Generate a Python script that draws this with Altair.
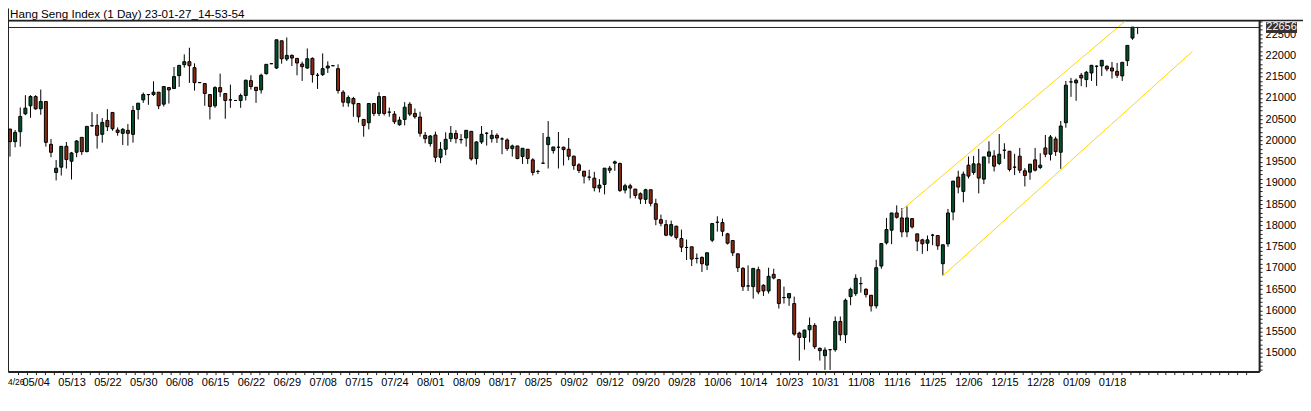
import altair as alt
import pandas as pd

# ---- OHLC values (one entry per daily candle) ----
opens = [20266,19970,20204,20625,20813,21031,20743,20914,19907,19244,
         19369,19860,19509,19720,20071,19735,20344,20352,20141,20469,
         20657,20243,20165,20235,20141,20727,20953,21078,21078,21133,
         20852,21242,21219,21523,21781,21851,21711,21359,21336,21078,
         20813,21242,21102,20953,20938,20938,21055,21406,21250,21188,
         21570,21804,21703,22343,21914,21999,21929,21796,21703,21929,
         21531,21547,21703,21757,21687,21133,20883,20985,20867,20493,
         20415,20867,20633,21031,20664,20618,20368,20493,20850,20634,
         20548,20119,19923,20126,19603,19791,20041,20165,20017,20056,
         20212,19572,19963,20166,20041,20119,20033,20009,19806,19869,
         19619,19791,19541,19268,19463,19900,19760,19838,19838,19791,
         19627,19424,19275,19135,19111,18877,18963,19346,19463,19455,
         18830,18932,18854,18744,18612,18838,18510,18135,18018,17769,
         17979,17691,17480,17495,17222,17246,17066,17651,18073,18065,
         17800,17644,17331,16988,16574,16559,16957,16590,16457,16847,
         16723,16301,16293,16160,15466,15364,15544,15645,15106,14935,
         15075,15075,15739,15427,16324,16395,16629,16496,16356,16106,
         17043,17589,17886,18292,18175,17847,18159,17800,17659,17581,
         17769,17761,17098,17566,18315,19135,18799,19416,19244,19447,
         19088,19627,19635,19455,19768,19744,19369,19627,19284,19252,
         19541,19362,19822,19674,20033,19721,20415,21376,21352,21532,
         21430,21586,21743,21750,21743,21703,21625,21516,21875,22406,
         22656]
highs = [20266,20243,20774,21063,21063,21063,21195,20914,20032,19540,
         19860,19962,19728,20009,20071,20329,20664,20618,20524,20735,
         20657,20305,20290,20383,20813,20875,21125,21078,21391,21133,
         21266,21242,21726,21765,22023,22179,21812,21370,21336,21078,
         21273,21570,21102,21312,20950,21102,21430,21531,21250,21570,
         21789,21815,22366,22343,22421,22023,21929,21851,22163,21953,
         21586,22046,21859,21770,21789,21180,21055,21024,20867,20493,
         20867,20867,21133,21031,20774,20689,20556,20900,20900,20750,
         20673,20197,20126,20205,19963,20189,20337,20244,20150,20236,
         20212,19978,20337,20197,20244,20166,20072,20048,19900,19869,
         19814,19791,19580,19307,20173,20454,19845,20197,19853,20056,
         19642,19463,19275,19307,19260,19088,19346,19400,19525,19478,
         18979,18979,18854,18776,18862,18838,18627,18253,18128,18112,
         17995,17901,17667,17495,17339,17269,17355,18042,18214,18159,
         17823,17644,17331,17019,17058,16988,17027,16613,17004,16980,
         16723,16559,16395,16324,15497,15544,15832,15700,15130,15130,
         15091,15856,15856,16277,16535,16847,16785,16520,16356,17191,
         17573,18175,18292,18471,18409,18448,18159,17800,17683,17761,
         17800,17761,17543,18386,19042,19284,19268,19619,19635,19799,
         19611,19978,19768,20150,19932,19744,19682,19822,19346,19440,
         19822,19697,20127,20127,20088,20455,21399,21469,21454,21586,
         21633,21766,21766,21883,21766,21844,21821,21836,22234,22664,
         22664]
lows = [19618,19837,19853,20594,20532,20719,20602,19853,19603,19056,
        19173,19337,19080,19603,19657,19720,20321,19806,19946,20219,
        20227,20110,19892,19876,19946,20493,20883,20836,21047,20735,
        20797,20867,21211,21258,21711,21351,21172,21350,20813,20493,
        20766,21024,20508,20766,20930,20766,20938,21195,20883,21102,
        21547,21795,21679,21804,21867,21750,21531,21398,21679,21359,
        21211,21515,21586,21745,21102,20789,20789,20555,20422,20087,
        20258,20571,20571,20586,20555,20384,20345,20353,20571,20509,
        20087,19931,19853,19486,19463,19650,19963,19931,19923,19853,
        19525,19432,19916,19877,19947,19939,19674,19752,19619,19557,
        19447,19447,19174,19205,19447,19338,19689,19338,19408,19533,
        19307,19229,18986,19057,18799,18776,18729,19229,19283,18784,
        18752,18635,18635,18502,18502,18448,18003,17979,17745,17730,
        17667,17370,17183,17043,17105,16902,16949,17605,17854,17745,
        17550,17277,16902,16457,16457,16277,16379,16340,16395,16730,
        16043,16160,16106,15403,14818,15075,15247,15091,14818,14599,
        14599,15028,15286,15231,16121,16340,16418,16301,15973,16043,
        16980,17550,17558,18159,17722,17722,17925,17394,17331,17394,
        17534,17425,16824,17496,18120,18753,18542,19104,19190,18753,
        18971,19455,19268,19416,19565,19268,19182,19229,18917,19073,
        19268,19323,19604,19526,19635,19330,20298,21024,20931,21274,
        21251,21399,21282,21516,21625,21454,21469,21399,21750,22367,
        22500]
closes = [19970,20188,20563,20758,21031,20743,20914,19954,19720,19345,
          19860,19548,19704,19985,19735,20329,20344,20118,20422,20321,
          20274,20188,20259,20165,20704,20875,21078,21078,21133,20813,
          21266,21188,21500,21765,21851,21757,21359,21359,21102,20797,
          21242,21141,20938,20953,20938,21055,21414,21266,21172,21531,
          21789,21804,22366,21921,21999,21937,21820,21734,21921,21547,
          21531,21687,21750,21757,21172,20899,21008,20860,20555,20352,
          20867,20633,21031,20633,20664,20439,20478,20780,20618,20556,
          20166,20041,20103,19603,19791,20025,20165,20041,20017,20236,
          19564,19963,20142,20166,20119,20056,20033,19806,19869,19572,
          19814,19572,19244,19268,19463,20072,19845,19838,19783,19627,
          19408,19291,19158,19135,18885,18947,19346,19299,19494,18823,
          18932,18877,18705,18620,18838,18518,18143,18050,17769,18018,
          17714,17488,17480,17206,17222,17097,17355,18042,18073,17862,
          17581,17355,17004,16559,16574,16988,16434,16457,16801,16762,
          16160,16301,16395,15442,15364,15536,15645,15145,15052,15067,
          15075,15739,15427,16238,16496,16754,16629,16371,16106,17004,
          17573,17901,18292,18190,17847,18175,17964,17628,17566,17659,
          17769,17519,17543,18292,19042,18901,19205,19159,19447,19112,
          19611,19729,19393,19674,19768,19315,19369,19299,19174,19440,
          19299,19416,19674,20080,19736,20337,21298,21376,21415,21469,
          21602,21766,21743,21883,21680,21633,21532,21836,22234,22664,
          22656]

# date labels of the time axis (one every 7 bars)
date_labels = ["05/04","05/13","05/22","05/30","06/08","06/15","06/22","06/29",
               "07/08","07/15","07/24","08/01","08/09","08/17","08/25","09/02",
               "09/12","09/20","09/28","10/06","10/14","10/23","10/31","11/08",
               "11/16","11/25","12/06","12/15","12/28","01/09","01/18"]
first_label = "4/26"

# price channel (two trend lines): bar index / price at their ends
chan_name = ["upper", "upper", "lower", "lower"]
chan_bar = [173.9, 218.5, 181.95, 230.7]
chan_price = [18353, 22900, 16808, 22094]

last_price = 22656
title_text = "Hang Seng Index (1 Day) 23-01-27_14-53-54"

GREEN = "#00512B"
RED = "#8A2A10"
GOLD = "#FFD700"
FONT = "Liberation Sans"
AXC = "#222222"

n = len(opens)
df = pd.DataFrame({"i": list(range(n)), "open": opens, "high": highs,
                   "low": lows, "close": closes})
chan_df = pd.DataFrame({"line": chan_name, "i": chan_bar, "p": chan_price})

W, H = 1254, 352
PAD_R = 44
xs = alt.Scale(domain=[-0.39, 243.7], nice=False, zero=False)
ys = alt.Scale(domain=[14559, 22822], nice=False, zero=False)

# x axis ticks: one every 1.75 bars, labels every 7 bars
x_ticks = [5 + 1.75 * j for j in range(-2, 136)]
lab_arr = "[" + ",".join("'%s'" % s for s in date_labels) + "]"
x_label_expr = (
    "((datum.value - 5) %% 7 == 0 && datum.value >= 5 && datum.value <= %d"
    " ? %s[(datum.value - 5) / 7] : '')" % (5 + 7 * (len(date_labels) - 1), lab_arr)
)
x_axis = alt.Axis(values=x_ticks, labelExpr=x_label_expr, title=None, grid=False,
                  tickSize=3, labelPadding=2, labelOverlap=False, labelFlush=False,
                  domainWidth=2, domainColor=AXC, tickColor=AXC)

y_ticks = list(range(14600, 22900, 100))
y_axis = alt.Axis(values=y_ticks, orient="right", format="d",
                  labelExpr="datum.value % 500 == 0 ? datum.label : ''",
                  title=None, grid=False, tickSize=3, labelPadding=3,
                  labelOverlap=False, labelFlush=False,
                  domainWidth=2, domainColor=AXC, tickColor=AXC)


def X(field):
    return alt.X(field, scale=xs, axis=x_axis)


def Y(field):
    return alt.Y(field, scale=ys, axis=y_axis)


base = alt.Chart(df)

wicks = base.mark_rule(color="black", strokeWidth=1, clip=True).encode(
    x=X("i:Q"), y=Y("low:Q"), y2="high:Q",
)

bodies = base.transform_calculate(
    xl="datum.i - 0.29", xr="datum.i + 0.29"
).mark_rect(stroke="black", strokeWidth=1, clip=True).encode(
    x=X("xl:Q"), x2="xr:Q",
    y=Y("open:Q"), y2="close:Q",
    fill=alt.condition("datum.close >= datum.open", alt.value(GREEN), alt.value(RED)),
)

channels = alt.Chart(chan_df).mark_line(color=GOLD, strokeWidth=1, clip=True).encode(
    x=X("i:Q"), y=Y("p:Q"), detail="line:N",
)

price_df = pd.DataFrame({"p": [last_price], "t": [str(last_price)]})
price_line = alt.Chart(price_df).mark_rule(color=AXC, strokeWidth=1).encode(
    y=Y("p:Q")
)
price_box = alt.Chart(price_df).transform_calculate(
    top="datum.p + 125", bot="datum.p - 130"
).mark_rect(color="#333333").encode(
    x=alt.value(W + 7), x2=alt.value(W + 38),
    y=Y("top:Q"), y2="bot:Q",
)
price_text = alt.Chart(price_df).mark_text(
    color="white", font=FONT, fontSize=11, align="center", baseline="middle"
).encode(
    x=alt.value(W + 22.5), y=Y("p:Q"), text="t:N",
)

# window frame: top line across the whole width, left line up to the title
frame_df = pd.DataFrame({"k": ["top", "left"]})
frame_top = alt.Chart(frame_df).transform_filter("datum.k == 'top'").mark_rule(
    color=AXC, strokeWidth=1.5
).encode(x=alt.value(0), x2=alt.value(W + PAD_R), y=alt.value(0))
frame_left = alt.Chart(frame_df).transform_filter("datum.k == 'left'").mark_rule(
    color=AXC, strokeWidth=1
).encode(x=alt.value(0.5), y=alt.value(-12), y2=alt.value(0))

# first (partially visible) date label at the far left of the time axis
first_df = pd.DataFrame({"t": [first_label]})
first_text = alt.Chart(first_df).mark_text(
    align="left", baseline="middle", font=FONT, fontSize=8.5, color="black"
).encode(x=alt.value(0), y=alt.value(H + 10), text="t:N")

title_df = pd.DataFrame({"t": [title_text]})
title = alt.Chart(title_df).mark_text(
    align="left", baseline="middle", font=FONT, fontSize=11.7, color="black"
).encode(x=alt.value(2), y=alt.value(-6), text="t:N")

chart = alt.layer(
    wicks, bodies, channels, price_line, price_box, price_text,
    frame_top, frame_left, first_text, title
).properties(
    width=W, height=H,
    autosize=alt.AutoSizeParams(type="none"),
    padding={"left": 0, "top": 12, "right": PAD_R, "bottom": 30},
).configure_view(
    stroke=AXC, strokeWidth=1
).configure_axis(
    labelFont=FONT, labelFontSize=11, labelColor="black"
)

chart.save("out.html", embed_options={"renderer": "svg", "actions": False})
